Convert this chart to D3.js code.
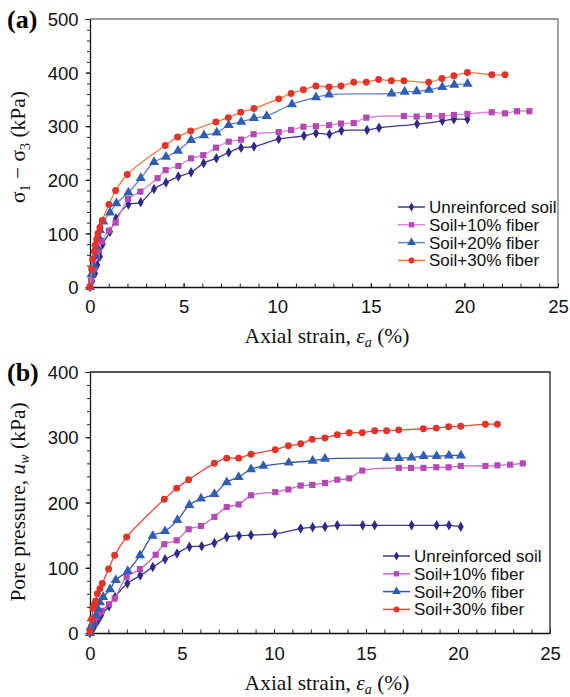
<!DOCTYPE html>
<html>
<head>
<meta charset="utf-8">
<script src="https://cdn.jsdelivr.net/npm/d3@7"></script>
<style>
  body { margin: 0; background: #fff; }
  .tick text { font-family: "Liberation Sans", Arial, sans-serif; font-size: 18.5px; fill: #111; }
  .lab { font-family: "Liberation Serif", "Times New Roman", serif; font-size: 21.5px; fill: #111; }
  .leg { font-family: "Liberation Sans", Arial, sans-serif; font-size: 17px; fill: #111; }
</style>
</head>
<body>
<script>
// series names
var seriesNames = ["Unreinforced soil", "Soil+10% fiber", "Soil+20% fiber", "Soil+30% fiber"];

// panel (a): deviator stress
var aUnX = [0, 0.12, 0.27, 0.39, 0.53, 0.68, 1.07, 1.39, 2.05, 2.71, 3.42, 4.06, 4.72, 5.4, 6.07, 6.75, 7.41, 8.07, 8.76, 10.08, 11.43, 12.07, 12.79, 13.43, 14.8, 15.44, 17.47, 18.82, 19.44, 20.16];
var aUnY = [0, 11, 25, 41, 57, 80, 103, 128, 154, 158, 183, 195, 206, 214, 231, 240, 251, 260, 262, 276, 282, 287, 285, 292, 293, 297, 304, 310, 313, 313];
var a10X = [0, 0.05, 0.12, 0.23, 0.36, 0.48, 0.62, 1.01, 1.37, 2.03, 2.69, 3.61, 4.04, 4.72, 5.4, 6.05, 6.73, 7.41, 8.07, 8.74, 10.08, 10.74, 11.4, 12.07, 12.77, 13.41, 14.09, 14.76, 16.77, 17.45, 18.11, 18.8, 19.44, 20.16, 21.46, 22.17, 22.81, 23.47];
var a10Y = [0, 12, 25, 35, 57, 69, 85, 105, 120, 164, 178, 203, 218, 226, 240, 246, 260, 271, 275, 285, 289, 293, 299, 300, 302, 305, 306, 316, 319, 318, 319, 319, 321, 323, 326, 324, 328, 328];
var a20X = [0, 0.09, 0.18, 0.27, 0.36, 0.43, 0.53, 0.71, 1.07, 1.41, 2.05, 2.71, 3.42, 4.06, 4.7, 5.4, 6.09, 6.77, 7.41, 8.08, 8.76, 9.44, 10.79, 12.07, 12.77, 16.11, 16.81, 17.45, 18.11, 18.82, 19.46, 20.17];
var a20Y = [0, 24, 41, 58, 75, 95, 106, 122, 139, 156, 176, 203, 233, 243, 254, 274, 283, 288, 302, 308, 315, 319, 341, 354, 359, 361, 364, 365, 368, 373, 377, 379];
var a30X = [0, 0.09, 0.14, 0.23, 0.28, 0.36, 0.43, 0.53, 0.66, 1.01, 1.37, 1.99, 4.02, 4.68, 5.38, 6.73, 7.39, 8.05, 8.76, 10.08, 10.74, 11.4, 12.07, 12.77, 13.41, 14.09, 14.76, 15.42, 16.1, 16.77, 18.09, 18.8, 19.44, 20.16, 21.46, 22.17];
var a30Y = [0, 33, 52, 66, 78, 88, 100, 111, 124, 154, 180, 210, 264, 280, 291, 308, 316, 326, 333, 351, 361, 368, 375, 373, 375, 382, 382, 387, 385, 385, 382, 389, 394, 400, 396, 396];

// panel (b): pore pressure
var bUnX = [0, 0.18, 0.31, 0.45, 0.6, 1.03, 1.36, 2.03, 2.73, 3.41, 4.08, 4.73, 5.4, 6.07, 6.76, 7.43, 8.1, 8.75, 10.05, 11.45, 12.1, 12.77, 13.44, 14.82, 15.47, 17.48, 18.84, 19.51, 20.15];
var bUnY = [0, 7, 14, 20, 27, 41, 55, 76, 88, 101, 113, 122, 132, 133, 138, 147, 149, 150, 152, 160, 162, 163, 165, 165, 165, 165, 165, 165, 163];
var b10X = [0, 0.09, 0.24, 0.36, 0.49, 0.64, 1.03, 1.34, 1.99, 2.72, 3.57, 4.04, 4.71, 5.36, 6.03, 6.76, 7.43, 8.08, 8.75, 10.07, 10.78, 11.45, 12.08, 12.77, 13.44, 14.09, 14.8, 16.78, 17.45, 18.12, 18.82, 19.49, 20.15, 21.49, 22.14, 22.83, 23.52];
var b10Y = [3, 9, 16, 24, 30, 34, 44, 53, 86, 98, 120, 136, 142, 159, 164, 178, 193, 197, 211, 216, 220, 226, 227, 230, 235, 237, 249, 253, 253, 253, 254, 254, 256, 256, 257, 258, 260];
var b20X = [0, 0.04, 0.18, 0.31, 0.42, 0.54, 0.72, 1.09, 1.4, 2.05, 2.72, 3.41, 4.08, 4.75, 5.4, 6.03, 6.76, 7.43, 8.08, 8.75, 9.42, 10.8, 12.1, 12.77, 16.14, 16.79, 17.47, 18.13, 18.84, 19.51, 20.16];
var b20Y = [0, 9, 16, 27, 37, 47, 55, 67, 81, 95, 119, 149, 156, 173, 196, 206, 213, 231, 239, 251, 256, 261, 264, 267, 268, 268, 269, 271, 271, 272, 272];
var b30X = [0, 0.09, 0.16, 0.24, 0.31, 0.4, 0.54, 0.67, 1.01, 1.34, 1.99, 4.04, 4.71, 5.36, 6.76, 7.43, 8.08, 8.75, 10.07, 10.78, 11.45, 12.08, 12.77, 13.44, 14.09, 14.8, 15.47, 16.12, 16.78, 18.12, 18.82, 19.49, 20.15, 21.49, 22.14];
var b30Y = [2, 21, 38, 44, 49, 60, 68, 76, 98, 119, 147, 205, 222, 235, 260, 268, 268, 274, 281, 287, 290, 297, 299, 304, 307, 307, 310, 310, 311, 313, 314, 316, 317, 320, 320];

var xTicks = [0, 5, 10, 15, 20, 25];
var aYTicks = [0, 100, 200, 300, 400, 500];
var bYTicks = [0, 100, 200, 300, 400];

var markerColors = ["#2e2a8c", "#b448b4", "#2f5eb4", "#e2332a"];
var symbols = [d3.symbolDiamond, d3.symbolSquare, d3.symbolTriangle, d3.symbolCircle];
var symSizes = [32, 38, 44, 38];

var svg = d3.select("body").append("svg")
    .attr("width", 570)
    .attr("height", 697);

function zip(xs, ys) {
  return xs.map(function(x, i) { return [x, ys[i]]; });
}

function drawPanel(p) {
  var x = d3.scaleLinear().domain([0, 25]).range([p.left, p.right]);
  var y = d3.scaleLinear().domain([0, p.ymax]).range([p.bottom, p.top]);

  // frame
  svg.append("path")
     .attr("d", `M${p.left},${p.top}H${p.right}V${p.bottom}`)
     .attr("fill", "none")
     .attr("stroke", p.frame)
     .attr("stroke-width", 1.3);

  // minor ticks
  svg.append("g")
     .attr("transform", `translate(${p.left},0)`)
     .call(d3.axisLeft(y).tickValues(d3.range(0, p.ymax + 1, 20)).tickSize(3).tickFormat(""))
     .call(g => g.select(".domain").remove())
     .selectAll("line").attr("stroke", "#222");
  svg.append("g")
     .attr("transform", `translate(0,${p.bottom})`)
     .call(d3.axisTop(x).tickValues(d3.range(0, 26, 1)).tickSize(3.5).tickFormat(""))
     .call(g => g.select(".domain").remove())
     .selectAll("line").attr("stroke", "#222");

  // main axes
  var yAxis = svg.append("g")
     .attr("transform", `translate(${p.left},0)`)
     .call(d3.axisLeft(y).tickValues(p.yTicks).tickSize(4.5).tickSizeOuter(0).tickPadding(7));
  yAxis.select(".domain").attr("stroke", "#111").attr("stroke-width", 1.3);
  yAxis.selectAll("text").attr("dy", "0.36em");

  var xAxis = svg.append("g")
     .attr("transform", `translate(0,${p.bottom})`)
     .call(d3.axisBottom(x).tickValues(xTicks).tickSize(0).tickSizeOuter(0).tickPadding(p.xPad));
  xAxis.select(".domain").attr("stroke", "#111").attr("stroke-width", 1.3);
  xAxis.selectAll(".tick line").remove();
  xAxis.selectAll(".tick").append("line").attr("y2", -4).attr("stroke", "#222");

  var line = d3.line()
     .x(d => x(d[0]))
     .y(d => y(d[1]))
     .curve(d3.curveCatmullRom.alpha(0.5));

  p.series.forEach(function(s, i) {
    var pts = zip(s[0], s[1]);
    svg.append("path")
       .datum(pts)
       .attr("d", line)
       .attr("fill", "none")
       .attr("stroke", p.lineColors[i])
       .attr("stroke-width", 1.3);
    svg.append("g").selectAll("path")
       .data(pts)
       .enter()
       .append("path")
       .attr("transform", d => `translate(${x(d[0])},${y(d[1])})`)
       .attr("d", d3.symbol().type(symbols[i]).size(symSizes[i]))
       .attr("fill", markerColors[i]);
  });

  // legend
  var lg = svg.append("g").attr("transform", `translate(${p.legX},${p.legY})`);
  seriesNames.forEach(function(name, i) {
    var row = lg.append("g").attr("transform", `translate(0,${i * 17.8})`);
    row.append("line").attr("x1", 0).attr("x2", 27)
       .attr("stroke", p.lineColors[i]).attr("stroke-width", 1.5);
    row.append("path")
       .attr("transform", "translate(13.5,0)")
       .attr("d", d3.symbol().type(symbols[i]).size(symSizes[i] * 0.75))
       .attr("fill", markerColors[i]);
    row.append("text").attr("class", "leg")
       .attr("x", 31).attr("y", 6)
       .text(name);
  });

  // panel tag
  svg.append("text")
     .attr("x", 7).attr("y", p.top + 9)
     .attr("font-family", "Liberation Serif, serif")
     .attr("font-weight", "bold")
     .attr("font-size", 26)
     .text(p.tag);

  // x label
  var xl = svg.append("text").attr("class", "lab")
     .attr("x", 327).attr("y", p.bottom + p.xLabOff)
     .attr("text-anchor", "middle");
  xl.append("tspan").text("Axial strain,  ");
  xl.append("tspan").attr("font-style", "italic").text("ε");
  xl.append("tspan").attr("font-style", "italic").attr("font-size", 14).attr("dy", 4).text("a");
  xl.append("tspan").attr("dy", -4).text(" (%)");

  // y label
  var yl = svg.append("text").attr("class", "lab")
     .attr("transform", `translate(25,${p.yLabY}) rotate(-90)`)
     .attr("text-anchor", "middle");
  p.yLabel(yl);
}

drawPanel({
  tag: "(a)", left: 90, right: 558, top: 19, bottom: 287, ymax: 500, yTicks: aYTicks,
  frame: "#7a7a7a", xPad: 13, xLabOff: 56,
  series: [[aUnX, aUnY], [a10X, a10Y], [a20X, a20Y], [a30X, a30Y]],
  lineColors: ["#3b3891", "#d58ad3", "#6286cf", "#f07a3c"],
  legX: 398, legY: 207, yLabY: 147,
  yLabel: function(t) {
    t.append("tspan").text("σ");
    t.append("tspan").attr("font-size", 14).attr("dy", 5).text("1");
    t.append("tspan").attr("dy", -5).text(" − σ");
    t.append("tspan").attr("font-size", 14).attr("dy", 5).text("3");
    t.append("tspan").attr("dy", -5).text(" (kPa)");
  }
});

drawPanel({
  tag: "(b)", left: 90, right: 550, top: 372, bottom: 633, ymax: 400, yTicks: bYTicks,
  frame: "#222", xPad: 14, xLabOff: 57,
  series: [[bUnX, bUnY], [b10X, b10Y], [b20X, b20Y], [b30X, b30Y]],
  lineColors: ["#3b3891", "#c866c8", "#3a55b0", "#e8463a"],
  legX: 383, legY: 556, yLabY: 502,
  yLabel: function(t) {
    t.append("tspan").text("Pore pressure, ");
    t.append("tspan").attr("font-style", "italic").text("u");
    t.append("tspan").attr("font-style", "italic").attr("font-size", 14).attr("dy", 4).text("w");
    t.append("tspan").attr("dy", -4).text(" (kPa)");
  }
});
</script>
</body>
</html>
